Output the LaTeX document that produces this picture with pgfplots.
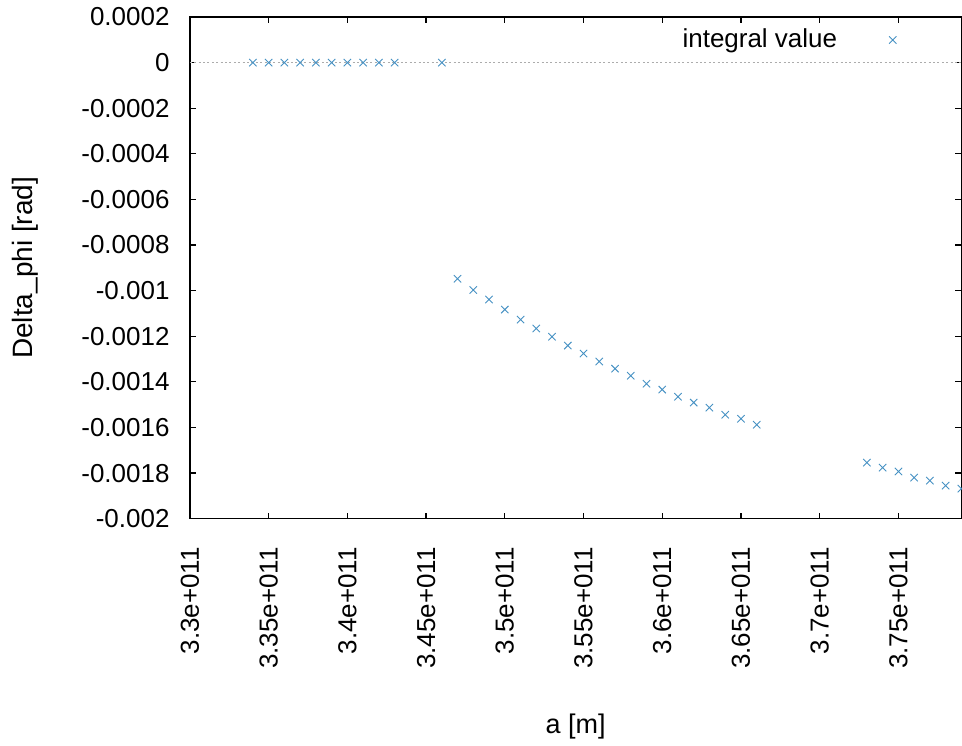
\documentclass[border=0pt]{standalone}
\usepackage{fontspec}
\setmainfont{Liberation Sans}
\usepackage{pgfplots}
\pgfplotsset{compat=1.18}
\definecolor{ptblue}{RGB}{70,145,195}
\begin{document}
\begin{tikzpicture}
\begin{axis}[
  at={(0pt,0pt)}, anchor=south west,
  scale only axis, width=386pt, height=251pt,
  xmin=3.3e11, xmax=3.79e11, ymin=-0.002, ymax=0.0002,
  scaled x ticks=false, scaled y ticks=false,
  axis line style={black, line width=0.7pt},
  tick align=inside, major tick length=3pt,
  every tick/.style={black, line width=0.6pt},
  xtick={3.3e11,3.35e11,3.4e11,3.45e11,3.5e11,3.55e11,3.6e11,3.65e11,3.7e11,3.75e11},
  xticklabels={3.3e+011,3.35e+011,3.4e+011,3.45e+011,3.5e+011,3.55e+011,3.6e+011,3.65e+011,3.7e+011,3.75e+011},
  ytick={-0.002,-0.0018,-0.0016,-0.0014,-0.0012,-0.001,-0.0008,-0.0006,-0.0004,-0.0002,0,0.0002},
  yticklabels={-0.002,-0.0018,-0.0016,-0.0014,-0.0012,-0.001,-0.0008,-0.0006,-0.0004,-0.0002,0,0.0002},
  xticklabel style={rotate=90, anchor=east, inner sep=0pt, font=\fontsize{13}{15}\selectfont},
  yticklabel style={anchor=east, inner sep=0pt, font=\fontsize{13}{15}\selectfont},
  xticklabel shift=14pt, yticklabel shift=10pt,
  xlabel={a [m]}, ylabel={Delta\_phi [rad]},
  xlabel style={at={(axis description cs:0.5,-0.4143)}, anchor=center, font=\fontsize{13.5}{15}\selectfont},
  ylabel style={at={(axis description cs:-0.2137,0.5)}, anchor=center, rotate=0, font=\fontsize{14}{15}\selectfont},
  legend plot pos=right,
  legend cell align=right,
  legend style={draw=none, fill=none, at={(0.9158,0.954)}, anchor=east, inner sep=0pt, outer sep=0pt,
    column sep=24pt, font=\fontsize{13}{15}\selectfont},
]
\addplot[gray!65, line width=0.6pt, dash pattern=on 1pt off 1.2pt, forget plot] coordinates {(3.3e11,0) (3.79e11,0)};
\addplot[only marks, mark=x, mark size=2.6pt, ptblue, mark options={line width=0.45pt}] table {
x y
3.34e11 0
3.35e11 0
3.36e11 0
3.37e11 0
3.38e11 0
3.39e11 0
3.40e11 0
3.41e11 0
3.42e11 0
3.43e11 0
3.46e11 0
3.47e11 -0.000948
3.48e11 -0.000997
3.49e11 -0.001039
3.50e11 -0.001083
3.51e11 -0.001127
3.52e11 -0.001166
3.53e11 -0.001202
3.54e11 -0.001241
3.55e11 -0.001276
3.56e11 -0.001311
3.57e11 -0.001342
3.58e11 -0.001373
3.59e11 -0.001408
3.60e11 -0.001434
3.61e11 -0.001465
3.62e11 -0.001491
3.63e11 -0.001513
3.64e11 -0.001544
3.65e11 -0.001562
3.66e11 -0.001588
3.73e11 -0.001754
3.74e11 -0.001776
3.75e11 -0.001793
3.76e11 -0.001820
3.77e11 -0.001833
3.78e11 -0.001855
3.79e11 -0.001868
};
\addlegendentry{integral value}
\end{axis}
\pgfresetboundingbox
\useasboundingbox (-95pt,-113.5pt) rectangle (386.3pt,259.5pt);
\end{tikzpicture}
\end{document}
